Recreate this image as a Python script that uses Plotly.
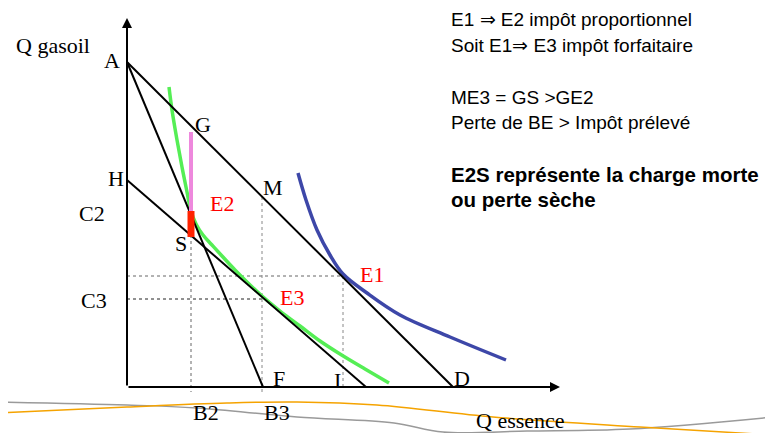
import plotly.graph_objects as go

# budget lines (Q essence, Q gasoil), origin = corner of the axes
line_AD_x = [0, 326]
line_AD_y = [325, 0]
line_AF_x = [0, 136]
line_AF_y = [325, 0]
line_HI_x = [0, 239]
line_HI_y = [207, 0]

# indifference curves
u2_x = [42, 45, 50, 55, 60, 64, 69, 76, 85, 95, 108, 121, 135, 153, 173, 193, 213, 238, 262]
u2_y = [300, 277, 247, 220, 195, 176, 163, 152, 142, 131, 117, 104, 91, 76, 61, 46, 33, 18, 4]
u1_x = [171, 179, 190, 203, 216, 240, 273, 323, 379]
u1_y = [214, 187, 157, 132, 113, 94, 72, 50, 27]

# dotted guides
guides = [
    ([0, 216], [111, 111], "#666666"),
    ([0, 135], [88, 88], "#222222"),
    ([64, 64], [152, -5], "#666666"),
    ([135, 135], [190, -5], "#888888"),
    ([216, 216], [111, 0], "#888888"),
]

# tax segments on x = B2
seg_GE2_x = [64, 64]
seg_GE2_y = [255, 176]
seg_E2S_x = [64, 64]
seg_E2S_y = [176, 150]

# slide decoration waves
wave_orange_x = [-127, 0, 100, 170, 250, 366, 513, 646]
wave_orange_y = [-26, -20, -16, -15, -18, -30, -40, -48]
wave_gray_x = [-127, 0, 70, 170, 267, 316, 400, 503, 646]
wave_gray_y = [-15, -18, -21, -30, -36, -45, -44, -42, -30]

labels = ["Q gasoil", "A", "G", "H", "M", "C2", "E2", "S", "C3", "E3", "E1",
          "F", "I", "D", "B2", "B3", "Q essence"]
label_x = [-74, -15, 76, -11, 146, -35, 95, 54, -33, 165, 245, 152, 210, 335, 79, 150, 393]
label_y = [342, 327, 263, 209, 200, 174, 184, 144, 87, 90, 113, 9, 7, 9, -25, -25, -33]
red_labels = {"E1", "E2", "E3"}

notes = [
    ("E1 ⇒ E2 impôt proportionnel", False),
    ("Soit E1⇒ E3 impôt forfaitaire", False),
    ("ME3 = GS >GE2", False),
    ("Perte de BE > Impôt prélevé", False),
    ("E2S représente la charge morte", True),
    ("ou perte sèche", True),
]
note_y = [368, 342, 290, 265, 213, 188]

fig = go.Figure()


def add_line(x, y, color, width, dash=None, shape="linear"):
    fig.add_trace(go.Scatter(x=x, y=y, mode="lines", hoverinfo="skip",
                             line=dict(color=color, width=width, dash=dash, shape=shape)))


add_line(wave_gray_x, wave_gray_y, "#9a9a9a", 1.5, shape="spline")
add_line(wave_orange_x, wave_orange_y, "#f5a300", 1.5, shape="spline")

for gx, gy, gc in guides:
    add_line(gx, gy, gc, 1, dash="dot")

add_line(u2_x, u2_y, "#55ee55", 3.5, shape="spline")
add_line(u1_x, u1_y, "#3d47a8", 3.5, shape="spline")

for lx, ly in [(line_AD_x, line_AD_y), (line_AF_x, line_AF_y), (line_HI_x, line_HI_y)]:
    add_line(lx, ly, "black", 2)

add_line(seg_GE2_x, seg_GE2_y, "#ee88dd", 4)
add_line(seg_E2S_x, seg_E2S_y, "#ff2200", 7)

# axes with arrows
fig.add_annotation(x=0, y=369, ax=0, ay=0, xref="x", yref="y", axref="x", ayref="y",
                   showarrow=True, arrowhead=2, arrowsize=1, arrowwidth=2, arrowcolor="black", text="")
fig.add_annotation(x=433, y=0, ax=0, ay=0, xref="x", yref="y", axref="x", ayref="y",
                   showarrow=True, arrowhead=2, arrowsize=1, arrowwidth=2, arrowcolor="black", text="")

for t, x, y in zip(labels, label_x, label_y):
    fig.add_annotation(x=x, y=y, text=t, showarrow=False,
                       font=dict(family="Liberation Serif, Times New Roman, serif", size=22,
                                 color="#ff0000" if t in red_labels else "black"))

for (t, bold), y in zip(notes, note_y):
    fig.add_annotation(x=322, y=y, text="<b>%s</b>" % t if bold else t, showarrow=False,
                       xanchor="left", yanchor="middle",
                       font=dict(family="Liberation Sans, Arial, sans-serif",
                                 size=20.5 if bold else 19, color="black"))

# page body keeps an 8px margin, so the figure is 8px smaller and its ranges start 8px in
fig.update_layout(
    width=765, height=425,
    margin=dict(l=0, r=0, t=0, b=0),
    paper_bgcolor="white", plot_bgcolor="white",
    showlegend=False,
    xaxis=dict(range=[-119, 646], visible=False, fixedrange=True),
    yaxis=dict(range=[-46, 379], visible=False, fixedrange=True),
)

fig.write_html("out.html")
